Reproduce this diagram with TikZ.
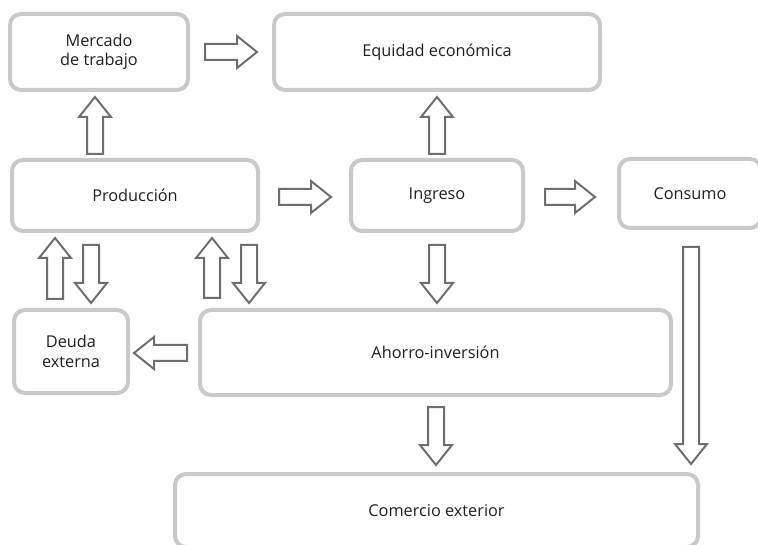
\documentclass[tikz,border=0pt]{standalone}
\usepackage{fontspec}
\setmainfont{Open Sans}
\usetikzlibrary{calc}
\definecolor{boxgray}{HTML}{C8C9CB}
\definecolor{arrgray}{HTML}{6E6E70}
\definecolor{txt}{HTML}{231F20}
\tikzset{
  box/.style={draw=boxgray, line width=4pt, rounded corners=11pt, fill=white,
    align=center, text=txt, font=\fontsize{16.3}{19.5}\selectfont, inner sep=0pt},
  blockarrow/.style={draw=arrgray, line width=2pt, fill=white, line join=miter},
}
\newcommand\barrow[2]{%
  \coordinate (tmpB) at ($(#2)!20pt!(#1)$);
  \draw[blockarrow] ($(#1)!8pt!90:(#2)$) -- ($(tmpB)!8pt!90:(#2)$) -- ($(tmpB)!16pt!90:(#2)$)
    -- (#2) -- ($(tmpB)!16pt!-90:(#2)$) -- ($(tmpB)!8pt!-90:(#2)$) -- ($(#1)!8pt!-90:(#2)$) -- cycle;}
\begin{document}
\begin{tikzpicture}[x=1pt,y=-1pt]
\useasboundingbox (0,0) rectangle (758,545);
% boxes (outer edges minus line width)
\node[box, minimum width=178pt, minimum height=76pt] (merc) at (99,52) {Mercado\\de trabajo};
\node[box, minimum width=326pt, minimum height=76pt] (equ) at (437,52) {Equidad económica};
\node[box, minimum width=246pt, minimum height=71pt] (prod) at (135,195.5) {Producción};
\node[box, minimum width=172pt, minimum height=71pt] (ing) at (437,195.5) {Ingreso};
\node[box, minimum width=142pt, minimum height=69pt] (cons) at (690,193.5) {Consumo};
\node[box, minimum width=114pt, minimum height=83pt] (deu) at (71,351.5) {Deuda\\externa};
\node[box, minimum width=471pt, minimum height=85pt] (aho) at (435.5,352.5) {Ahorro-inversión};
\node[box, minimum width=523pt, minimum height=73pt] (com) at (436.5,510.5) {Comercio exterior};
% arrow end points
\coordinate (a1s) at (205,52);   \coordinate (a1e) at (257,52);
\coordinate (a2s) at (95,154);   \coordinate (a2e) at (95,97);
\coordinate (a3s) at (437,154);  \coordinate (a3e) at (437,97);
\coordinate (a4s) at (279,197);  \coordinate (a4e) at (331,197);
\coordinate (a5s) at (545,197);  \coordinate (a5e) at (595,197);
\coordinate (a6s) at (55,299);   \coordinate (a6e) at (55,238);
\coordinate (a7s) at (91,245);   \coordinate (a7e) at (91,303);
\coordinate (a8s) at (212,298);  \coordinate (a8e) at (212,238);
\coordinate (a9s) at (249,245);  \coordinate (a9e) at (249,303);
\coordinate (a10s) at (437,245); \coordinate (a10e) at (437,303);
\coordinate (a11s) at (187,353); \coordinate (a11e) at (134,353);
\coordinate (a12s) at (436,407); \coordinate (a12e) at (436,465);
\coordinate (a13s) at (691,247); \coordinate (a13e) at (691,464);
\barrow{a1s}{a1e}
\barrow{a2s}{a2e}
\barrow{a3s}{a3e}
\barrow{a4s}{a4e}
\barrow{a5s}{a5e}
\barrow{a6s}{a6e}
\barrow{a7s}{a7e}
\barrow{a8s}{a8e}
\barrow{a9s}{a9e}
\barrow{a10s}{a10e}
\barrow{a11s}{a11e}
\barrow{a12s}{a12e}
\barrow{a13s}{a13e}
\end{tikzpicture}
\end{document}
